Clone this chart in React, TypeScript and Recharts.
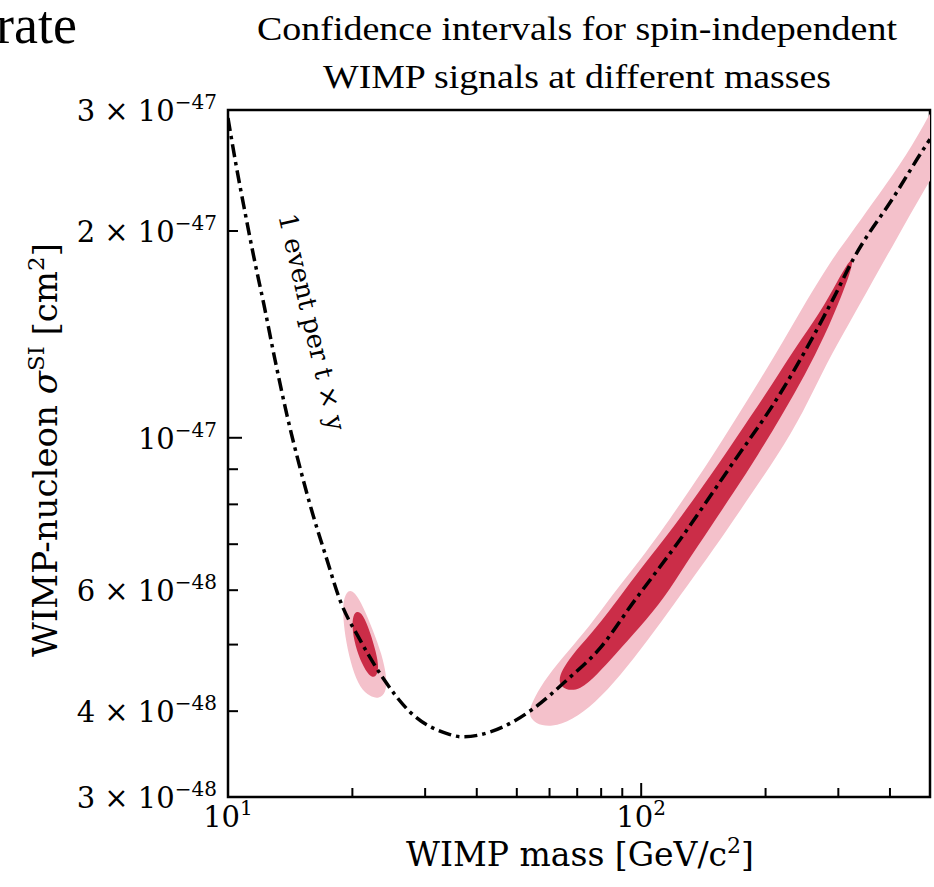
import { ComposedChart, ReferenceArea, Scatter, XAxis, YAxis } from "recharts";

// masses in GeV/c^2, cross sections in units of 1e-48 cm^2
const lineMass = [10, 10.46, 10.99, 11.56, 12.22, 12.99, 13.89, 14.94, 16.06, 17.27, 18.67, 20.87, 23.72, 27.57, 33.9, 37.0, 43.05, 48.95, 54.7, 66.1, 79.5, 95.5, 124, 164, 217, 291, 326, 412, 478, 500];
const lineSigma = [29.2, 24.95, 21.32, 18.27, 15.61, 13.0, 10.79, 9.04, 7.72, 6.71, 5.8, 5.08, 4.47, 3.99, 3.71, 3.67, 3.73, 3.86, 4.03, 4.44, 4.94, 5.75, 7.1, 9.06, 11.6, 15.9, 18.2, 22.6, 26.1, 27.2];

// 20 GeV signal contours
const lowOuter: [number, number][] = [
  [19.52, 6.02], [20.29, 5.96], [21.21, 5.69], [22.43, 5.25], [23.59, 4.83], [24.25, 4.47], [24.11, 4.25],
  [23.2, 4.17], [22.07, 4.2], [20.87, 4.32], [19.96, 4.62], [19.31, 5.03], [18.98, 5.47], [18.98, 5.8],
];
const lowInner: [number, number][] = [
  [20.52, 5.6], [21.21, 5.54], [22.07, 5.22], [22.82, 4.88], [23.2, 4.62], [22.82, 4.47], [21.94, 4.5],
  [21.1, 4.68], [20.29, 4.99], [19.96, 5.3], [20.07, 5.52],
];

// heavy signal contours (run off the top right corner)
const highOuter: [number, number][] = [
  [55.34, 3.83], [60.83, 3.79], [68.0, 3.88], [77.3, 4.11], [88.9, 4.5], [103.9, 5.08], [120.7, 5.75],
  [138.8, 6.46], [161.3, 7.34], [185.4, 8.31], [214.3, 9.44], [246.4, 10.87], [281.8, 12.89], [320.2, 14.74],
  [361.9, 16.85], [416.1, 19.53], [483.5, 22.95], [558.9, 26.41], [642.5, 30.5], [558.9, 33.7],
  [483.5, 28.44], [423.0, 24.96], [361.9, 21.9], [320.2, 19.73], [286.4, 18.02], [251.9, 15.87], [221.6, 13.88],
  [193.9, 12.14], [168.7, 10.62], [146.7, 9.28], [126.2, 8.12], [111.1, 7.27], [99.3, 6.64], [88.9, 6.1],
  [81.75, 5.71], [73.1, 5.22], [64.3, 4.78], [57.85, 4.41], [54.42, 4.12], [53.21, 3.96],
];
const highInner: [number, number][] = [
  [65.4, 4.29], [71.1, 4.29], [78.2, 4.52], [86.4, 4.83], [99.3, 5.3], [114.2, 5.86], [127.6, 6.53],
  [146.7, 7.39], [167.7, 8.34], [191.8, 9.44], [219.2, 10.79], [249.2, 12.34], [278.6, 14.11], [306.2, 16.14],
  [325.6, 17.85], [323.6, 18.39], [299.4, 16.97], [270.9, 15.19], [235.6, 13.51], [207.3, 11.94], [183.4, 10.72],
  [159.5, 9.44], [138.8, 8.39], [120.7, 7.46], [105.0, 6.71], [93.96, 6.15], [84.07, 5.61], [75.16, 5.16],
  [68.0, 4.83], [64.3, 4.59], [62.9, 4.41],
];

const xTicks = [10, 20, 30, 40, 50, 60, 70, 80, 90, 100, 200, 300, 400];
const xLabels: Record<number, string> = { 10: "1", 100: "2" };
const yTicks = [3, 4, 5, 6, 7, 8, 9, 10, 20, 30];
const yLabels: Record<number, { mant: string; exp: string }> = {
  3: { mant: "3", exp: "−48" },
  4: { mant: "4", exp: "−48" },
  6: { mant: "6", exp: "−48" },
  10: { mant: "", exp: "−47" },
  20: { mant: "2", exp: "−47" },
  30: { mant: "3", exp: "−47" },
};

const PALE = "#f4c1cb";
const DEEP = "#cb2d48";
const TICK_FONT = "DejaVu Serif";

const toPoints = (pairs: [number, number][]) => pairs.map(([m, s]) => ({ m, s }));
const linePoints = lineMass.map((m, i) => ({ m, s: lineSigma[i] }));

const noDot = () => <g />;

function XTick(props: any) {
  const { x, y, payload } = props;
  const exp = xLabels[payload.value];
  return (
    <g>
      <line x1={x} x2={x} y1={y} y2={y - (exp ? 14 : 9)} stroke="#000" strokeWidth={2} />
      {exp ? (
        <text x={x} y={y + 30} textAnchor="middle" fontFamily={TICK_FONT} fontSize={29} fill="#000">
          10<tspan dy={-12} fontSize={20}>{exp}</tspan>
        </text>
      ) : null}
    </g>
  );
}

function YTick(props: any) {
  const { x, y, payload } = props;
  const label = yLabels[payload.value];
  return (
    <g>
      <line x1={x} x2={x + (payload.value === 10 ? 14 : 10)} y1={y} y2={y} stroke="#000" strokeWidth={2} />
      {label ? (
        <text x={x - 11} y={y + 11} textAnchor="end" fontFamily={TICK_FONT} fontSize={29} fill="#000">
          {label.mant ? `${label.mant} × 10` : "10"}
          <tspan dy={-12} fontSize={20}>{label.exp}</tspan>
        </text>
      ) : null}
    </g>
  );
}

export default function App() {
  return (
    <div style={{ position: "absolute", left: 0, top: 0, width: 934, height: 887, background: "#fff" }}>
      <ComposedChart width={934} height={887} margin={{ top: 110, right: 4, bottom: 30, left: 168 }}>
        <XAxis
          dataKey="m"
          type="number"
          scale="log"
          domain={[10, 500]}
          allowDataOverflow
          ticks={xTicks}
          interval={0}
          tick={<XTick />}
          tickSize={0}
          tickMargin={0}
          axisLine={false}
          tickLine={false}
          height={60}
        />
        <YAxis
          dataKey="s"
          type="number"
          scale="log"
          domain={[3, 30]}
          allowDataOverflow
          ticks={yTicks}
          interval={0}
          tick={<YTick />}
          tickSize={0}
          tickMargin={0}
          axisLine={false}
          tickLine={false}
          width={60}
        />
        <Scatter data={toPoints(highOuter)} fill={PALE} shape={noDot} line={{ fill: PALE, stroke: "none" }} lineJointType="basisClosed" isAnimationActive={false} />
        <Scatter data={toPoints(highInner)} fill={DEEP} shape={noDot} line={{ fill: DEEP, stroke: "none" }} lineJointType="basisClosed" isAnimationActive={false} />
        <Scatter data={toPoints(lowOuter)} fill={PALE} shape={noDot} line={{ fill: PALE, stroke: "none" }} lineJointType="basisClosed" isAnimationActive={false} />
        <Scatter data={toPoints(lowInner)} fill={DEEP} shape={noDot} line={{ fill: DEEP, stroke: "none" }} lineJointType="basisClosed" isAnimationActive={false} />
        <Scatter
          data={linePoints}
          fill="#000"
          shape={noDot}
          line={{ stroke: "#000", strokeWidth: 3.5, strokeDasharray: "13 5 3.5 5", fill: "none" }}
          lineJointType="monotoneX"
          isAnimationActive={false}
        />
        <ReferenceArea x1={10} x2={500} y1={3} y2={30} fill="none" stroke="#000" strokeWidth={2.5} fillOpacity={0} />
      </ComposedChart>
      <svg width={934} height={887} style={{ position: "absolute", left: 0, top: 0, pointerEvents: "none" }}>
        <text x={-4} y={43} fontFamily="Liberation Serif" fontSize={54} fill="#000">rate</text>
        <text x={577} y={40} textAnchor="middle" fontFamily="Liberation Serif" fontSize={34} fill="#000" textLength={640} lengthAdjust="spacingAndGlyphs">
          Confidence intervals for spin-independent
        </text>
        <text x={577} y={88} textAnchor="middle" fontFamily="Liberation Serif" fontSize={34} fill="#000" textLength={508} lengthAdjust="spacingAndGlyphs">
          WIMP signals at different masses
        </text>
        <text x={580} y={866} textAnchor="middle" fontFamily={TICK_FONT} fontSize={33} fill="#000">
          WIMP mass [GeV/c<tspan dy={-13} fontSize={22}>2</tspan><tspan dy={13}>]</tspan>
        </text>
        <text x={57} y={450} transform="rotate(-90 57 450)" textAnchor="middle" fontFamily={TICK_FONT} fontSize={34} fill="#000">
          WIMP-nucleon <tspan fontStyle="italic">σ</tspan>
          <tspan dy={-13} fontSize={23}>SI</tspan>
          <tspan dy={13}> [cm</tspan>
          <tspan dy={-13} fontSize={23}>2</tspan>
          <tspan dy={13}>]</tspan>
        </text>
        <text x={312} y={322} transform="rotate(77 312 322)" textAnchor="middle" dominantBaseline="central" fontFamily={TICK_FONT} fontSize={26} fill="#000">
          1 event per t × y
        </text>
      </svg>
    </div>
  );
}
